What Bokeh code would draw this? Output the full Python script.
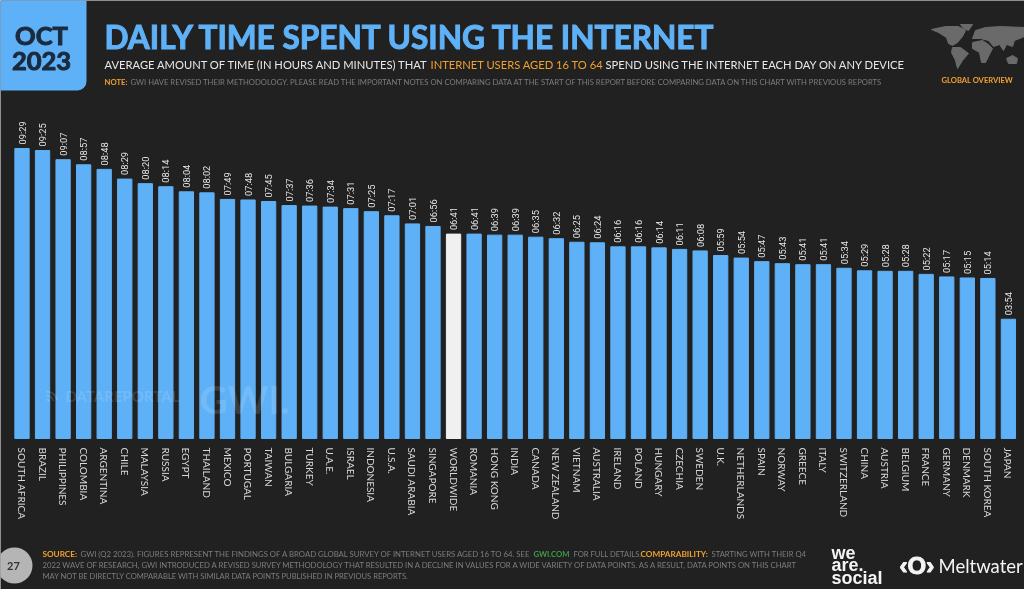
from math import pi
from bokeh.plotting import figure
from bokeh.models import Label, BoxAnnotation, Range1d, ColumnDataSource, FixedTicker
from bokeh.core.properties import value
from bokeh.embed import file_html
from bokeh.resources import INLINE

countries = ["SOUTH AFRICA","BRAZIL","PHILIPPINES","COLOMBIA","ARGENTINA","CHILE","MALAYSIA","RUSSIA","EGYPT","THAILAND",
             "MEXICO","PORTUGAL","TAIWAN","BULGARIA","TURKEY","U.A.E.","ISRAEL","INDONESIA","U.S.A.","SAUDI ARABIA",
             "SINGAPORE","WORLDWIDE","ROMANIA","HONG KONG","INDIA","CANADA","NEW ZEALAND","VIETNAM","AUSTRALIA","IRELAND",
             "POLAND","HUNGARY","CZECHIA","SWEDEN","U.K.","NETHERLANDS","SPAIN","NORWAY","GREECE","ITALY",
             "SWITZERLAND","CHINA","AUSTRIA","BELGIUM","FRANCE","GERMANY","DENMARK","SOUTH KOREA","JAPAN"]
times = ["09:29","09:25","09:07","08:57","08:48","08:29","08:20","08:14","08:04","08:02",
         "07:49","07:48","07:45","07:37","07:36","07:34","07:31","07:25","07:17","07:01",
         "06:56","06:41","06:41","06:39","06:39","06:35","06:32","06:25","06:24","06:16",
         "06:16","06:14","06:11","06:08","05:59","05:54","05:47","05:43","05:41","05:41",
         "05:34","05:29","05:28","05:28","05:22","05:17","05:15","05:14","03:54"]
minutes = [int(t[:2]) * 60 + int(t[3:]) for t in times]

BG, BLUE, ORANGE, GREY = "#212121", "#5FB1F7", "#F0A030", "#7d7d7d"
W, H, BASE = 1024, 589, 438
STEP = 20.55
X0 = -21.5 / STEP
PX_PER_MIN = 0.5097
idx = list(range(len(countries)))
colors = ["#F0F0F0" if c == "WORLDWIDE" else BLUE for c in countries]
src = ColumnDataSource(dict(i=idx, m=minutes, t=times, col=colors))

p = figure(width=W, height=H, x_range=Range1d(X0, X0 + W / STEP),
           y_range=Range1d(-(H - BASE) / PX_PER_MIN, BASE / PX_PER_MIN),
           output_backend="svg", toolbar_location=None,
           min_border_left=0, min_border_right=0, min_border_top=0, min_border_bottom=0,
           background_fill_color=BG, border_fill_color=BG, outline_line_color=None,
           styles={"position": "fixed", "left": "0", "top": "0"})
p.grid.visible = False
p.yaxis.visible = False
ax = p.xaxis[0]
ax.fixed_location = 0
ax.ticker = FixedTicker(ticks=idx)
ax.major_label_overrides = dict(zip(idx, countries))
ax.axis_line_color = None
ax.major_tick_line_color = None
ax.minor_tick_line_color = None
ax.major_label_orientation = "vertical"
ax.major_label_standoff = 3
ax.major_label_text_color = "#D8D8D8"
ax.major_label_text_font = "Lato"
ax.major_label_text_font_size = "10px"

p.vbar(x="i", top="m", width=0.695, color="col", source=src)
p.text(x="i", y="m", text="t", source=src, angle=pi / 2, y_offset=-4, text_align="left", text_baseline="middle",
       text_color="#E6E6E6", text_font=value("Roboto"), text_font_size="9.3px")

# decorative map, in page pixels
land_x = [[931,945,958,965,962,957,952,948,946,938],[960,972,968,963],[952,960,968,962,957,955,951],
          [972,982,988,992,988,985,981,979,972],
          [972,975,985,1000,1024,1024,1014,1012,1006,1003,999,993,988,980],[1006,1012,1017,1016,1008]]
land_y = [[29,26,26,30,36,42,45,43,37,32],[24,24,30,28],[47,47,53,60,68,60,52],
          [42,40,44,48,56,62,62,52,48],
          [38,30,27,26,27,36,40,46,44,50,44,46,40,38],[58,55,58,63,63]]
p.patches([[v / STEP + X0 for v in r] for r in land_x],
          [[(BASE - v) / PX_PER_MIN for v in r] for r in land_y], color="#6a6a6a")

# faint watermark icon
for r_px in (3, 7, 11):
    p.arc(x=[46 / STEP + X0], y=[(BASE - 402) / PX_PER_MIN], radius=r_px, radius_units="screen",
          start_angle=0.2, end_angle=1.6, line_color="#FFFFFF", line_alpha=0.14, line_width=2)

def box(l, r, t, b, color, radius):
    p.add_layout(BoxAnnotation(left=l, right=r, top=H - t, bottom=H - b, left_units="screen", right_units="screen",
                               top_units="screen", bottom_units="screen", fill_color=color, fill_alpha=1,
                               line_color=None, border_radius=radius, level="annotation"))

def lab(x, y, s, size, color, font="Lato", bold=False, align="left", alpha=1.0, heavy=False):
    p.add_layout(Label(x=x, y=H - y, x_units="screen", y_units="screen", text=s, text_color=color, text_alpha=alpha,
                       text_font=font, text_font_size=f"{size}px", text_font_style="bold" if bold else "normal",
                       text_outline_color=color if heavy else None,
                       text_align=align, text_baseline="middle"))

box(-20, 86, -20, 90, BLUE, 9)
lab(41, 34, "OCT", 25.5, "#1B2A3C", bold=True, align="center", heavy=True)
lab(41, 60, "2023", 25.5, "#1B2A3C", bold=True, align="center", heavy=True)
lab(104, 36, "DAILY TIME SPENT USING THE INTERNET", 31.6, BLUE, bold=True, heavy=True)
lab(104, 64, "AVERAGE AMOUNT OF TIME (IN HOURS AND MINUTES) THAT", 11.2, "#E8E8E8")
lab(430, 64, "INTERNET USERS AGED 16 TO 64", 11.2, ORANGE)
lab(605, 64, "SPEND USING THE INTERNET EACH DAY ON ANY DEVICE", 11.2, "#E8E8E8")
lab(104, 81.5, "NOTE:", 7.68, ORANGE, bold=True)
lab(130, 81.5, "GWI HAVE REVISED THEIR METHODOLOGY. PLEASE READ THE IMPORTANT NOTES ON COMPARING DATA AT THE START OF THIS REPORT BEFORE COMPARING DATA ON THIS CHART WITH PREVIOUS REPORTS", 7.68, GREY)
lab(941, 79, "GLOBAL OVERVIEW", 7.6, ORANGE, bold=True)

lab(65, 395, "DATAREPORTAL", 15, "#FFFFFF", bold=True, alpha=0.12)
lab(199, 398, "GWI.", 39, "#FFFFFF", bold=True, alpha=0.12)

box(-4, 32, 547, 583, "#B5B5B5", 18)
lab(13, 565, "27", 11, "#333333", bold=True, align="center")
lab(42, 553, "SOURCE:", 8.2, ORANGE, bold=True)
lab(80, 553, "GWI (Q2 2023). FIGURES REPRESENT THE FINDINGS OF A BROAD GLOBAL SURVEY OF INTERNET USERS AGED 16 TO 64. SEE", 7.78, GREY)
lab(533, 553, "GWI.COM", 7.68, "#3F9B4A", bold=True)
lab(573, 553, "FOR FULL DETAILS.", 7.6, GREY)
lab(640, 553, "COMPARABILITY:", 8.2, ORANGE, bold=True)
lab(711, 553, "STARTING WITH THEIR Q4", 7.68, GREY)
lab(42, 564, "2022 WAVE OF RESEARCH, GWI INTRODUCED A REVISED SURVEY METHODOLOGY THAT RESULTED IN A DECLINE IN VALUES FOR A WIDE VARIETY OF DATA POINTS. AS A RESULT, DATA POINTS ON THIS CHART", 7.73, GREY)
lab(42, 575, "MAY NOT BE DIRECTLY COMPARABLE WITH SIMILAR DATA POINTS PUBLISHED IN PREVIOUS REPORTS.", 7.6, GREY)

for y, s in zip((552, 564, 577), ("we", "are.", "social")):
    lab(831, y, s, 18, "#F4F4F4", font="Liberation Sans", bold=True)
lab(899, 565, "\u2039O\u203a", 24, "#F4F4F4", font="Liberation Sans", bold=True, heavy=True)
lab(938, 565, "Meltwater", 18.5, "#F4F4F4")

open("out.html", "w").write(file_html(p, INLINE))
